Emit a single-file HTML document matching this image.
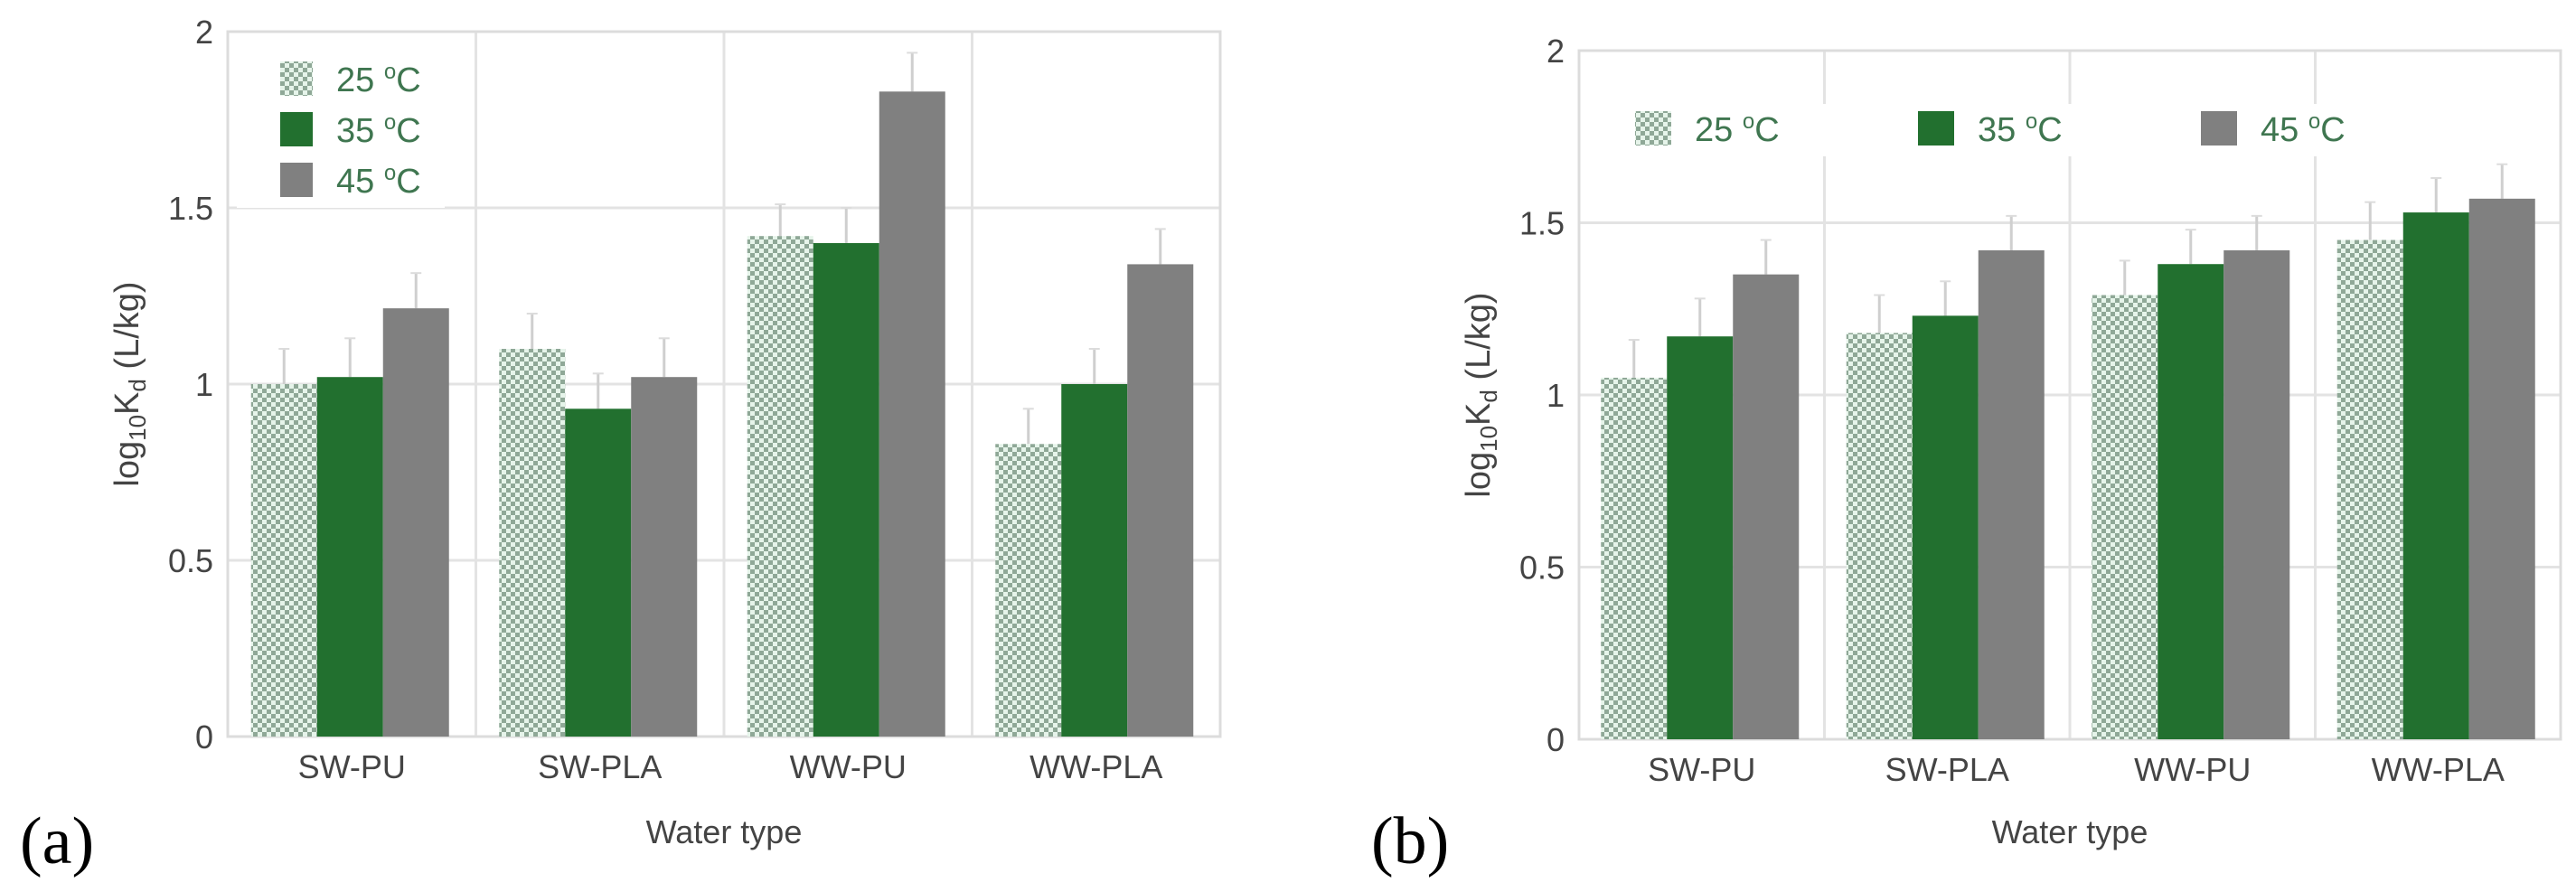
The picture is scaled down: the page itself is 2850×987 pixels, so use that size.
<!DOCTYPE html>
<html><head><meta charset="utf-8"><style>
html,body{margin:0;padding:0;background:#fff;width:2850px;height:987px;overflow:hidden}
svg text{font-family:"Liberation Sans",Arial,sans-serif}
</style></head><body>
<svg id="chart" width="2850" height="987" viewBox="0 0 2850 987" xmlns="http://www.w3.org/2000/svg">
<defs>
<pattern id="chk" patternUnits="userSpaceOnUse" width="10" height="10">
<rect width="10" height="10" fill="#e6f4ea"/>
<rect width="5" height="5" fill="#8fa897"/>
<rect x="5" y="5" width="5" height="5" fill="#8fa897"/>
</pattern>
</defs>
</svg>
<script>
const categories = ["SW-PU","SW-PLA","WW-PU","WW-PLA"];
const seriesNames = ["25","35","45"];
const yTicks = [0,0.5,1,1.5,2];
const yTickLabels = ["0","0.5","1","1.5","2"];
const aT25 = [1.00,1.10,1.42,0.83];
const aT35 = [1.02,0.93,1.40,1.00];
const aT45 = [1.215,1.02,1.83,1.34];
const aErr25 = [0.10,0.10,0.09,0.10];
const aErr35 = [0.11,0.10,0.10,0.10];
const aErr45 = [0.10,0.11,0.11,0.10];
const bT25 = [1.05,1.18,1.29,1.45];
const bT35 = [1.17,1.23,1.38,1.53];
const bT45 = [1.35,1.42,1.42,1.57];
const bErr25 = [0.11,0.11,0.10,0.11];
const bErr35 = [0.11,0.10,0.10,0.10];
const bErr45 = [0.10,0.10,0.10,0.10];

const svg = document.getElementById('chart');
const NS = 'http://www.w3.org/2000/svg';
function mk(tag, attrs, parent){const e=document.createElementNS(NS,tag);for(const k in attrs)e.setAttribute(k,attrs[k]);(parent||svg).appendChild(e);return e;}
const fills = ["url(#chk)","#22702f","#808080"];

function panel(id, L, R, Y0, Y2, vals, errs, legendMode, labelChar, labelX){
  const g = mk('g',{});
  
  
  const yS = v => Y0 - (Y0-Y2)*v/2;
  const gw = (R-L)/categories.length;
  const xG = i => L + gw*i;
  // grid
  yTicks.forEach((t,i)=>{
    const ln = mk('line',{x1:L,x2:R,y1:yS(t),y2:yS(t),stroke:'#e3e3e3','stroke-width':3},g);
    
    
    const tx = mk('text',{x:L-16,y:yS(t)+13,'text-anchor':'end','font-size':36,fill:'#444'},g);
    tx.textContent = yTickLabels[i];
    
    
  });
  for(let i=1;i<categories.length;i++){
    const ln = mk('line',{x1:xG(i),x2:xG(i),y1:Y2,y2:Y0,stroke:'#e3e3e3','stroke-width':3},g);
    
    
  }
  const fr = mk('rect',{x:L,y:Y2,width:R-L,height:Y0-Y2,fill:'none',stroke:'#dcdcdc','stroke-width':3},g);
  
  
  // legend background
  if(legendMode==='v'){
    const bg = mk('rect',{x:262,y:50,width:230,height:180,fill:'#fff'},g);
    
    
  } else {
    const bg = mk('rect',{x:L+40,y:115,width:R-L-150,height:58,fill:'#fff'},g);
    
    
  }
  const bw = 73;
  categories.forEach((c,i)=>{
    const x0 = xG(i) + (gw - 3*bw)/2 - 2;
    vals.forEach((s,k)=>{
      const v = s[i], e = errs[k][i];
      const eb = mk('line',{x1:x0+k*bw+bw/2,x2:x0+k*bw+bw/2,y1:yS(v),y2:yS(v+e),stroke:'#cfcfcf','stroke-width':3},g);
      
      
      const cap = mk('line',{x1:x0+k*bw+bw/2-6,x2:x0+k*bw+bw/2+6,y1:yS(v+e),y2:yS(v+e),stroke:'#dcdcdc','stroke-width':2},g);
      
      
      const r = mk('rect',{x:x0+k*bw,y:yS(v),width:bw,height:Y0-yS(v),fill:fills[k]},g);
      
      
    });
    const t = mk('text',{x:xG(i)+gw/2,y:Y0+46,'text-anchor':'middle','font-size':36,fill:'#444'},g);
    t.textContent = c;
    
    
  });
  // legend
  seriesNames.forEach((s,k)=>{
    let sx, sy, sw;
    if(legendMode==='v'){ sx=310; sy=[68,124,180][k]; sw=36; }
    else { sx=L+62+k*313; sy=123; sw=40; }
    const sq = mk('rect',{x:sx,y:sy,width:sw,height:38,fill:fills[k]},g);
    
    
    const t = mk('text',{x:sx+sw+26,y:sy+33,'font-size':38,fill:'#3f7650'},g);
    t.innerHTML = s+' <tspan font-size="24" dy="-14">o</tspan><tspan dy="14">C</tspan>';
    
    
  });
  const cy = (Y0+Y2)/2;
  const yt = mk('text',{x:L-99,y:cy,'text-anchor':'middle','font-size':38,fill:'#444',transform:'rotate(-90 '+(L-99)+' '+cy+')'},g);
  yt.innerHTML = 'log<tspan font-size="26" dy="8">10</tspan><tspan dy="-8">K</tspan><tspan font-size="26" dy="8">d</tspan><tspan dy="-8"> (L/kg)</tspan>';
  
  
  const xt = mk('text',{x:(L+R)/2,y:933,'text-anchor':'middle','font-size':36,fill:'#444'},g);
  xt.textContent = 'Water type';
  
  
  const pl = mk('text',{x:labelX,y:955,'font-size':74,fill:'#000','font-family':'Liberation Serif, serif'},g);
  pl.setAttribute('style','font-family:"Liberation Serif",serif');
  pl.textContent = labelChar;
  
  
}
panel('a',252,1350,815,35,[aT25,aT35,aT45],[aErr25,aErr35,aErr45],'v','(a)',22);
panel('b',1747,2833,818,56,[bT25,bT35,bT45],[bErr25,bErr35,bErr45],'h','(b)',1517);
</script>
</body></html>
